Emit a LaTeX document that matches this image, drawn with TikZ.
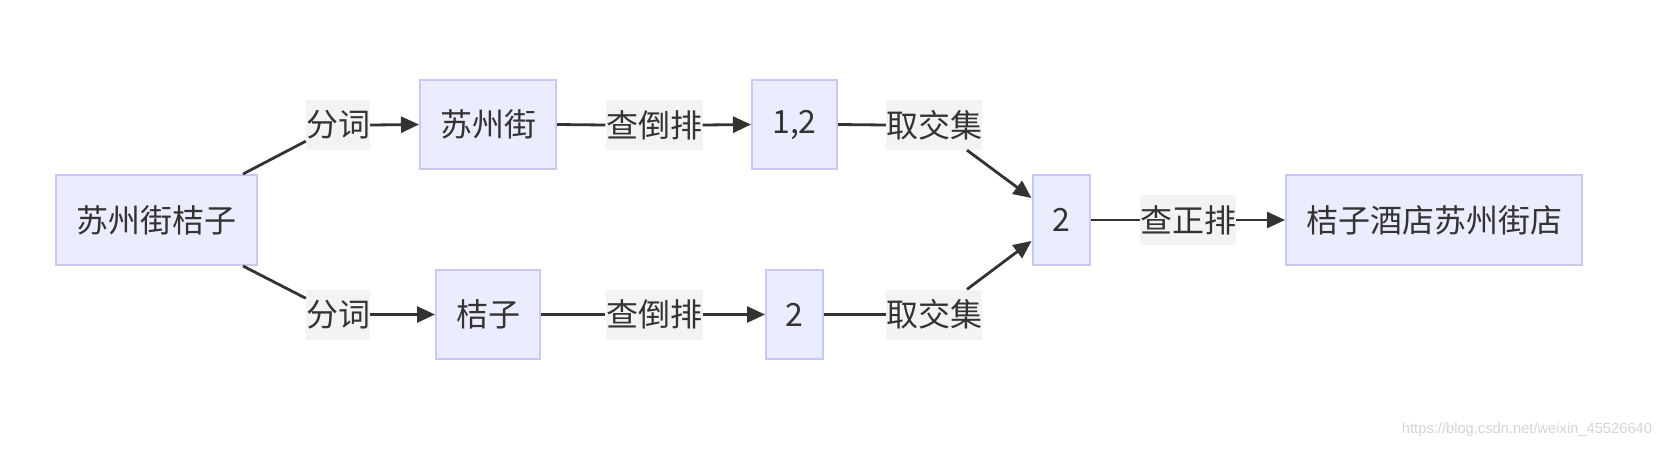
\documentclass[tikz,border=0pt]{standalone}
\usepackage{fontspec}
\setmainfont{Noto Sans CJK SC}
\newfontfamily\wmfont{Liberation Sans}
\usetikzlibrary{arrows.meta}
\definecolor{nodefill}{HTML}{ECECFF}
\definecolor{nodeline}{HTML}{C8C8F2}
\definecolor{lblfill}{HTML}{F3F3F3}
\definecolor{ink}{HTML}{333333}
\definecolor{wmgray}{HTML}{D4D4D4}
\tikzset{
  box/.style={draw=nodeline, fill=nodefill, line width=2pt, inner sep=0pt,
    text=ink, font=\fontsize{32}{38}\selectfont},
  lbl/.style={fill=lblfill, inner sep=0pt, text=ink, minimum height=50pt,
    font=\fontsize{32}{38}\selectfont},
  conn/.style={draw=ink, line width=2.8pt},
  arr/.style={conn, -{Triangle[length=18pt,width=16pt]}}
}
\begin{document}
\begin{tikzpicture}[x=1pt,y=-1pt]
\useasboundingbox (0,0) rectangle (1672,448);
% nodes
\node[box, minimum width=201pt, minimum height=90pt] (A) at (156,220) {苏州街桔子};
\node[box, minimum width=136pt, minimum height=89pt] (B) at (488,124.5) {苏州街};
\node[box, minimum width=104pt, minimum height=89pt] (C) at (488,314.5) {桔子};
\node[box, minimum width=85pt, minimum height=89pt] (D) at (794.5,124.5) {1,2};
\node[box, minimum width=57pt, minimum height=89pt] (E) at (794.5,314.5) {2};
\node[box, minimum width=57pt, minimum height=90pt] (F) at (1061,220) {2};
\node[box, minimum width=296pt, minimum height=90pt] (G) at (1434,220) {桔子酒店苏州街店};
% labels
\node[lbl, minimum width=64pt] (l1) at (338,125) {分词};
\node[lbl, minimum width=64pt] (l2) at (338,314.5) {分词};
\node[lbl, minimum width=97pt] (l3) at (654,125) {查倒排};
\node[lbl, minimum width=97pt] (l4) at (654,314.5) {查倒排};
\node[lbl, minimum width=95pt] (l5) at (934,125) {取交集};
\node[lbl, minimum width=95pt] (l6) at (934,314.5) {取交集};
\node[lbl, minimum width=95pt] (l7) at (1188,220) {查正排};
% connectors
\coordinate (a1) at ([xshift=87pt]A.north);
\coordinate (a2) at ([xshift=87pt]A.south);
\draw[conn] (a1) -- ([yshift=9pt]l1.south west);
\draw[arr] (l1.east) -- (B.west);
\draw[conn] (a2) -- ([yshift=-9pt]l2.north west);
\draw[arr] (l2.east) -- (C.west);
\draw[conn] (B.east) -- (l3.west);
\draw[arr] (l3.east) -- (D.west);
\draw[conn] (C.east) -- (l4.west);
\draw[arr] (l4.east) -- (E.west);
\draw[conn] (D.east) -- (l5.west);
\draw[arr] ([xshift=33pt]l5.south) -- ([yshift=22pt]F.west);
\draw[conn] (E.east) -- (l6.west);
\draw[arr] ([xshift=33pt]l6.north) -- ([yshift=-21pt]F.west);
\draw[conn] (F.east) -- (l7.west);
\draw[arr] (l7.east) -- (G.west);
% watermark
\node[text=wmgray, font=\wmfont\fontsize{14.7}{17}\selectfont, inner sep=0pt] (wm) at (1527,430) {https://blog.csdn.net/weixin\_45526640};
\end{tikzpicture}
\end{document}
